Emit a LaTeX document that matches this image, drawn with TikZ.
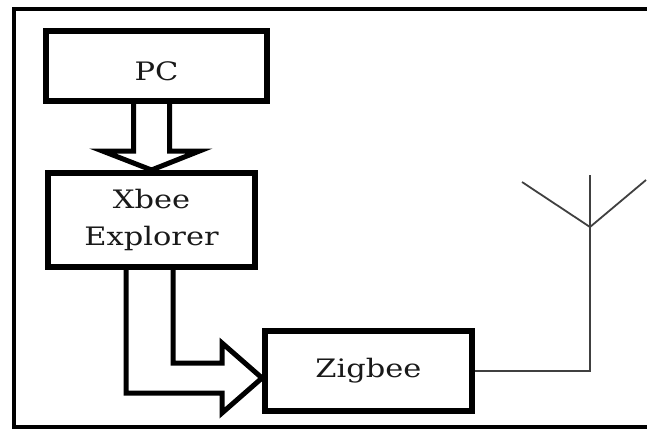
\documentclass[tikz,border=0pt]{standalone}
\usepackage{fontspec}
\setmainfont[FakeStretch=1.2]{DejaVu Serif}
\usetikzlibrary{calc}

\begin{document}
\begin{tikzpicture}[x=1bp, y=-1bp,
  box/.style={draw, line width=6bp, minimum width=207bp, inner sep=0pt,
    font=\fontsize{25.5}{37}\selectfont, text=black!90},
  hollow/.style={line width=5bp, miter limit=10},
  aerial/.style={line width=1.8bp, black!75}]
  \useasboundingbox (0,0) rectangle (647,429);
  % outer frame, its right side is cut off
  \draw[line width=4bp] (660,8.5) -- (14,8.5) -- (14,427) -- (660,427);
  % blocks
  \node[box, minimum width=221bp, minimum height=70bp, text height=29bp] (pc) at (156.5,66) {PC};
  \node[box, minimum height=94bp, align=center] (xbee) at (151.5,220) {Xbee\\Explorer};
  \node[box, minimum height=80bp] (zigbee) at (368.5,371) {Zigbee};
  % PC down to Xbee Explorer
  \coordinate (pcl) at ($(xbee.north)+(-18,0)$);
  \coordinate (pcr) at ($(xbee.north)+(18,0)$);
  \draw[hollow] (pcl |- pc.south) -- ($(xbee.north)+(-18,-19)$) -- ++(-31,0)
    -- (xbee.north) -- ($(xbee.north)+(48,-19)$) -- ++(-30,0) -- (pcr |- pc.south);
  % Xbee Explorer over to Zigbee
  \coordinate (tip) at ($(zigbee.west)+(0,7)$);
  \draw[hollow] ($(xbee.south)+(21.5,0)$) |- ($(tip)+(-40,-15)$) -- ++(0,-20)
    -- (tip) -- ($(tip)+(-40,35)$) -- ++(0,-20) -| ($(xbee.south)+(-25.5,0)$);
  % antenna
  \coordinate (feed) at (590,227);
  \draw[aerial] (zigbee.east) -| (feed) -- ++(0,-52);
  \draw[aerial] (522,182) -- (feed) -- (646,180);
\end{tikzpicture}
\end{document}
